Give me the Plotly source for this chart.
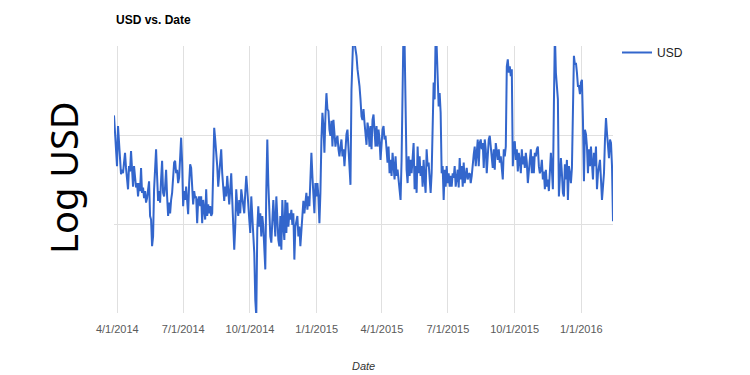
import numpy as np
import pandas as pd
import plotly.graph_objects as go

# Log USD values (roughly one reading per ~1.38 days)
seg_2014a = [2.22, 2.06, 1.87, 1.65, 2.10, 1.91, 1.76, 1.56, 1.61, 1.57, 1.69, 1.80, 1.63, 1.54, 1.39,
             1.65, 1.59, 1.82, 1.67, 1.42, 1.65, 1.50, 1.41, 1.46, 1.31, 1.46, 1.37, 1.63, 1.35, 1.41,
             1.29, 1.37, 1.24, 1.29, 1.41, 1.48, 1.09, 1.05, 0.75, 0.86, 1.39, 1.67, 1.84, 1.54, 1.26,
             1.37, 1.24, 1.50, 1.71, 1.35, 1.31, 1.42, 1.61, 1.31, 1.09, 1.24, 1.12, 1.27, 1.35, 1.52,
             1.69, 1.71, 1.57, 1.61, 1.46, 1.52, 1.76, 1.97, 1.69, 1.20, 1.37, 1.27, 1.42, 1.18, 1.11,
             1.46, 1.67, 1.63, 1.46, 1.22, 1.37, 1.29, 1.31, 1.01, 1.27, 1.31]
seg_2014b = [1.20, 1.31, 1.01, 1.27, 1.16, 1.05, 1.39, 1.09, 1.22, 1.12, 1.20, 1.09, 1.12, 1.80, 2.08,
             1.95, 1.84, 1.65, 1.42, 1.57, 1.72, 1.84, 1.57, 1.35, 1.26, 1.42, 1.31, 1.54, 1.31, 1.22,
             1.39, 1.57, 1.27, 0.97, 0.71, 0.97, 1.39, 1.20, 1.09, 1.27, 1.12, 1.39, 1.27, 1.16, 1.12,
             1.35, 1.54, 1.39, 1.12, 1.05, 0.90, 1.31, 1.09, 0.82, 0.67, 0.15, -0.04, 0.94, 1.20, 0.97,
             1.12, 0.86, 1.09, 0.97, 0.75, 0.49, 1.39, 1.95, 1.46, 1.12, 0.86, 0.79, 1.12, 1.27, 1.05,
             0.86, 1.31, 1.05, 0.82, 0.75, 1.09, 0.71, 1.27, 0.97, 0.82]
seg_2015a = [1.27, 0.90, 1.24, 0.97, 1.12, 1.05, 1.16, 0.99, 1.12, 0.60, 0.97, 1.05, 1.09, 0.86, 0.97,
             0.75, 0.97, 1.20, 1.26, 1.12, 1.24, 1.35, 1.16, 1.31, 1.20, 1.50, 1.80, 1.54, 1.35, 1.12,
             1.46, 1.31, 1.46, 1.31, 1.01, 1.35, 1.95, 2.25, 2.10, 1.80, 2.21, 2.47, 2.29, 2.27, 2.06,
             1.99, 2.16, 1.87, 2.17, 2.06, 1.87, 1.95, 1.99, 1.84, 1.76, 1.87, 1.95, 1.76, 1.84, 1.65,
             1.91, 2.01, 2.06, 1.80, 1.57, 1.44, 2.51, 3.20, 3.20, 3.04, 2.96, 2.89, 2.74, 2.66, 2.55,
             2.40, 2.21, 2.17, 2.29, 2.14, 1.99, 1.89, 2.14, 2.06, 1.87]
seg_2015b = [2.10, 1.84, 2.17, 2.23, 1.99, 1.87, 2.10, 1.87, 2.06, 1.95, 1.72, 1.95, 2.06, 2.10, 1.95,
             1.99, 1.84, 1.69, 1.87, 1.57, 1.72, 1.54, 1.80, 1.67, 1.50, 1.76, 1.54, 1.61, 1.48, 1.42,
             1.27, 1.72, 2.51, 3.26, 3.04, 1.95, 1.61, 1.46, 1.76, 1.54, 1.72, 1.57, 1.76, 1.91, 1.39,
             1.65, 1.35, 1.87, 1.57, 1.76, 1.54, 1.65, 1.42, 1.72, 1.50, 1.35, 1.84, 1.65, 1.69, 1.54,
             1.35, 1.57, 2.32, 2.59, 2.40, 3.11, 3.00, 2.66, 2.32, 2.47, 2.25, 1.57, 1.65, 1.27, 1.61,
             1.42, 1.65, 1.46, 1.57, 1.42, 1.54, 1.42, 1.57, 1.52, 1.65]
seg_2015c = [1.42, 1.50, 1.61, 1.41, 1.74, 1.50, 1.65, 1.42, 1.69, 1.46, 1.57, 1.63, 1.50, 1.56, 1.57,
             1.46, 1.54, 1.71, 1.78, 1.87, 1.65, 1.80, 1.95, 1.65, 1.91, 1.95, 1.84, 1.91, 1.63, 1.95,
             1.84, 1.57, 1.80, 1.95, 1.99, 1.87, 1.78, 1.63, 1.84, 1.61, 1.91, 1.80, 1.72, 1.84, 1.69,
             1.76, 1.65, 1.50, 1.84, 1.76, 1.87, 2.77, 2.85, 2.70, 2.77, 2.66, 2.74, 1.65, 1.87, 1.93,
             1.72, 1.84, 1.59, 1.80, 1.71, 1.57, 1.84, 1.67, 1.76, 1.63, 1.80, 1.69, 1.46, 1.65, 1.72,
             1.84, 1.57, 1.76, 1.57, 1.80, 1.76, 1.84, 1.87, 1.65, 1.57]
seg_2016 = [1.61, 1.72, 1.50, 1.59, 1.39, 1.61, 1.42, 1.50, 1.37, 1.69, 1.80, 1.61, 1.39, 2.32, 3.15,
            2.70, 2.51, 2.40, 1.31, 1.54, 1.74, 1.57, 1.35, 1.31, 1.67, 1.50, 1.72, 1.27, 1.65, 1.57,
            1.46, 1.63, 2.62, 2.89, 2.79, 2.81, 2.70, 2.55, 2.55, 2.46, 2.59, 2.62, 2.17, 1.48, 2.06,
            2.01, 1.87, 1.57, 1.84, 1.65, 1.87, 1.65, 1.50, 1.80, 1.65, 1.87, 1.39, 1.57, 1.69, 1.72,
            1.50, 1.27, 1.42, 1.57, 1.95, 2.19, 2.02, 1.80, 1.74, 1.95, 1.91, 1.65, 1.03]

usd_log = seg_2014a + seg_2014b + seg_2015a + seg_2015b + seg_2015c + seg_2016

start_date = pd.Timestamp("2014-03-27 10:30")
step = pd.Timedelta(hours=33.17)
dates = [start_date + i * step for i in range(len(usd_log))]

tick_dates = ["2014-04-01", "2014-07-01", "2014-10-01", "2015-01-01",
              "2015-04-01", "2015-07-01", "2015-10-01", "2016-01-01"]
tick_labels = ["4/1/2014", "7/1/2014", "10/1/2014", "1/1/2015",
               "4/1/2015", "7/1/2015", "10/1/2015", "1/1/2016"]
y_grid = [0, 1, 2, 3]

W, H = 750, 375
L, R, T, B = 114, 137, 46, 62
PW, PH = W - L - R, H - T - B

fig = go.Figure()
fig.add_trace(go.Scatter(
    x=dates, y=usd_log, mode="lines", name="USD",
    line=dict(color="#3366cc", width=2),
))

grid = "#e0e0e0"
fig.update_layout(
    width=W, height=H,
    margin=dict(l=L, r=R, t=T, b=B, autoexpand=False),
    paper_bgcolor="white", plot_bgcolor="white",
    font=dict(family="Liberation Sans, Arial, sans-serif", size=11, color="#444"),
    showlegend=True,
    legend=dict(x=1.0 + 4 / PW, y=1.0 + 8 / PH, xanchor="left", yanchor="top",
                xref="paper", yref="paper",
                font=dict(size=12, color="#222"),
                bgcolor="rgba(0,0,0,0)", itemwidth=30),
    xaxis=dict(
        range=[dates[0], dates[-1]],
        tickmode="array", tickvals=tick_dates, ticktext=tick_labels,
        showgrid=True, gridcolor=grid, gridwidth=1,
        zeroline=False, showline=False, ticks="",
        ticklabelstandoff=8,
        tickfont=dict(size=11, color="#5a5a5a"),
    ),
    yaxis=dict(
        range=[0, 3], tickmode="array", tickvals=y_grid,
        showticklabels=False, showgrid=True, gridcolor=grid, gridwidth=1,
        zeroline=False, showline=False, ticks="",
    ),
    annotations=[
        dict(text="<b>USD vs. Date</b>", xref="paper", yref="paper",
             x=0, y=1, xanchor="left", yanchor="bottom", yshift=17,
             showarrow=False, font=dict(size=12, color="#000")),
        dict(text="<i>Date</i>", xref="paper", yref="paper",
             x=0.5, y=0, xanchor="center", yanchor="top", yshift=-45,
             showarrow=False, font=dict(size=11, color="#333")),
        dict(text="Log USD", xref="paper", yref="paper",
             x=(63 - L) / PW, y=(H - B - 178) / PH,
             xanchor="center", yanchor="middle", textangle=-90,
             showarrow=False, font=dict(family="Noto Sans, sans-serif", size=38, color="#000")),
    ],
)

fig.write_html("out.html", config={"displayModeBar": False},
               post_script="document.body.style.margin='0';document.body.style.padding='0';")
